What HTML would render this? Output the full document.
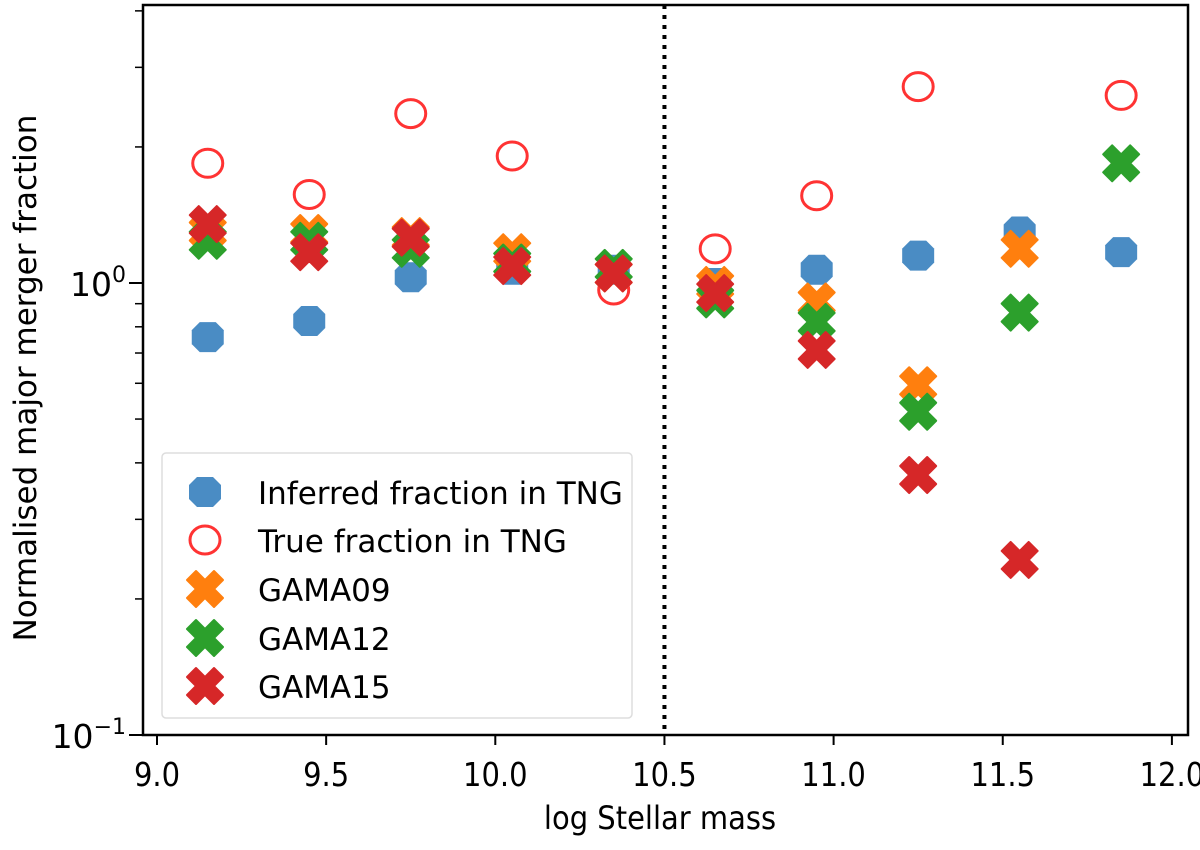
<!DOCTYPE html>
<html><head><meta charset="utf-8"><style>
body{margin:0;background:#fff}
svg text{font-family:"DejaVu Sans","Liberation Sans",sans-serif;fill:#000}
</style></head><body>
<svg id="chart" width="1200" height="845" xmlns="http://www.w3.org/2000/svg"></svg>
<script>
const xCats=[9.15,9.45,9.75,10.05,10.35,10.65,10.95,11.25,11.55,11.85];
const inferred=[0.759,0.824,1.03,1.07,1.07,1.0,1.07,1.15,1.30,1.17];
const trueFrac=[1.84,1.57,2.37,1.91,0.965,1.19,1.56,2.72,null,2.60];
const gama09=[1.30,1.29,1.27,1.17,1.05,0.99,0.91,0.594,1.19,null];
const gama12=[1.24,1.24,1.19,1.11,1.08,0.92,0.82,0.519,0.86,1.84];
const gama15=[1.35,1.17,1.26,1.09,1.05,0.95,0.711,0.376,0.244,null];
const xTicks=[9.0,9.5,10.0,10.5,11.0,11.5,12.0];
const xTickLabels=["9.0","9.5","10.0","10.5","11.0","11.5","12.0"];

const svg=document.getElementById('chart');
const NS='http://www.w3.org/2000/svg';
const L=143,R=1188,T=5,B=735;
const X=v=>157+(v-9)*338.3;
const Y=v=>735-(Math.log10(v)+1)*452;
function mk(tag,attrs,parent){const e=document.createElementNS(NS,tag);for(const k in attrs)e.setAttribute(k,attrs[k]);(parent||svg).appendChild(e);return e;}
function octagon(cx,cy,g){return mk('polygon',{points:[[-16,-7],[-8,-15],[8,-15],[16,-7],[16,7],[8,15],[-8,15],[-16,7]].map(p=>(cx+p[0])+','+(cy+p[1])).join(' '),fill:'#4a8cc4'},g);}
function circ(cx,cy,g){return mk('ellipse',{cx:cx,cy:cy,rx:15,ry:14,fill:'none',stroke:'#ff3333','stroke-width':3},g);}
function cross(cx,cy,col,g){const a=18,w=9;const p=[[-a+w,-a],[0,-w],[a-w,-a],[a,-a+w],[w,0],[a,a-w],[a-w,a],[0,w],[-a+w,a],[-a,a-w],[-w,0],[-a,-a+w]];return mk('polygon',{points:p.map(q=>(cx+q[0])+','+(cy+q[1])).join(' '),fill:col,stroke:col,'stroke-width':2,'stroke-linejoin':'round'},g);}

const yMinor=[0.2,0.3,0.4,0.5,0.6,0.7,0.8,0.9,2,3,4];
yMinor.forEach(v=>{const t=mk('line',{x1:L-8,x2:L,y1:Y(v),y2:Y(v),stroke:'#000','stroke-width':1.5});});
[0.1,1].forEach(v=>{const t=mk('line',{x1:L-14,x2:L,y1:Y(v),y2:Y(v),stroke:'#000','stroke-width':2});});
const yl1=mk('text',{x:126,y:Y(1)+13,'text-anchor':'end','font-size':33});yl1.innerHTML='10<tspan dy="-14" font-size="22">0</tspan>';

const yl2=mk('text',{x:126,y:Y(0.1)+13,'text-anchor':'end','font-size':33});yl2.innerHTML='10<tspan dy="-14" font-size="22">−1</tspan>';


xTicks.forEach((v,i)=>{const t=mk('line',{x1:X(v),x2:X(v),y1:B,y2:B+10,stroke:'#000','stroke-width':2});
const l=mk('text',{x:0,y:0,'text-anchor':'middle','font-size':29,transform:'translate('+X(v)+',786) scale(1,1.15)'});l.textContent=xTickLabels[i];});

const vl=mk('line',{x1:X(10.5),x2:X(10.5),y1:T,y2:B,stroke:'#000','stroke-width':4,'stroke-dasharray':'4,6'});


const gI=mk('g',{});
const gT=mk('g',{});
const g9=mk('g',{});
const g12=mk('g',{});
const g15=mk('g',{});
xCats.forEach((x,i)=>{
 if(inferred[i]!=null){const e=octagon(X(x),Y(inferred[i]),gI);}
 if(trueFrac[i]!=null){const e=circ(X(x),Y(trueFrac[i]),gT);}
 if(gama09[i]!=null){const e=cross(X(x),Y(gama09[i]),'#ff7f0e',g9);}
 if(gama12[i]!=null){const e=cross(X(x),Y(gama12[i]),'#2ca02c',g12);}
 if(gama15[i]!=null){const e=cross(X(x),Y(gama15[i]),'#d62728',g15);}
});

const frame=mk('rect',{x:L,y:T,width:R-L,height:B-T,fill:'none',stroke:'#000','stroke-width':2.5});


const lg=mk('g',{});
mk('rect',{x:162,y:453,width:470,height:265,rx:4,fill:'#fff','fill-opacity':0.85,stroke:'#dddddd','stroke-width':1.5},lg);
const names=['Inferred fraction in TNG','True fraction in TNG','GAMA09','GAMA12','GAMA15'];
const ys=[492,540,589,638,686];
names.forEach((n,i)=>{
 const row=mk('g',{},lg);
 if(i==0)octagon(205,ys[i],row);else if(i==1)circ(205,ys[i],row);else cross(205,ys[i],['#ff7f0e','#2ca02c','#d62728'][i-2],row);
 const t=mk('text',{x:258,y:ys[i]+12,'font-size':31},row);t.textContent=n;
});

const xt=mk('text',{x:0,y:0,'text-anchor':'middle','font-size':29,transform:'translate(660,829) scale(1,1.1)'});xt.textContent='log Stellar mass';

const yt=mk('text',{x:0,y:0,'text-anchor':'middle','font-size':31,transform:'translate(36,378) rotate(-90)'});yt.textContent='Normalised major merger fraction';

</script>
</body></html>
